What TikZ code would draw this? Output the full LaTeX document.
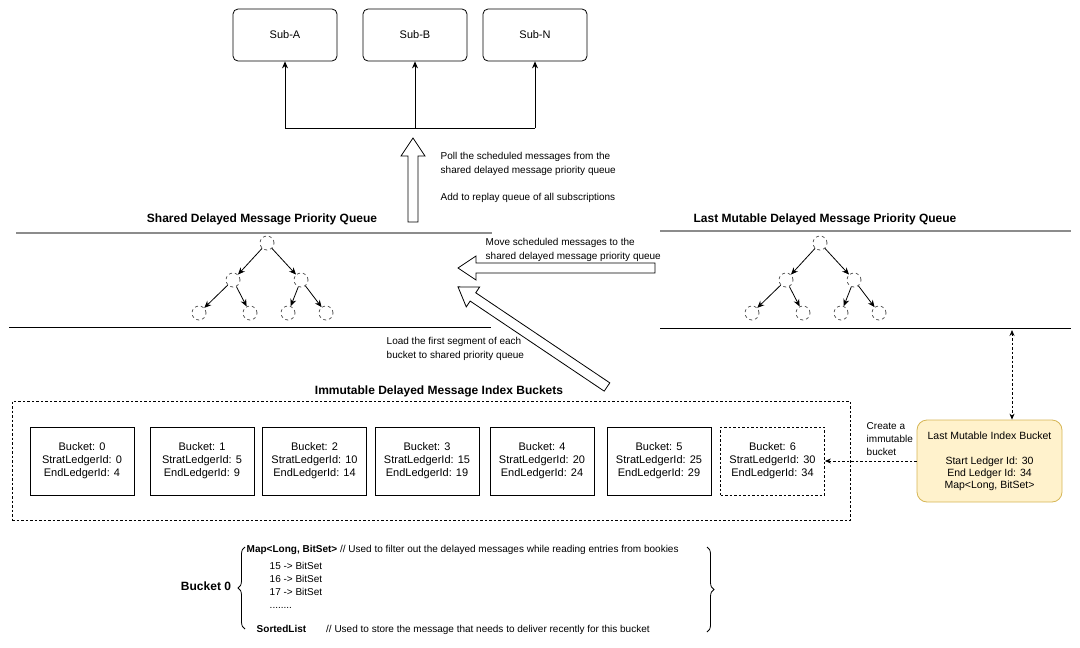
\documentclass[tikz,border=0pt]{standalone}
\usepackage{fontspec}
\setmainfont{Liberation Sans}
\usetikzlibrary{arrows.meta, decorations.pathreplacing}

\definecolor{mutfill}{HTML}{FFF2CC}
\definecolor{mutline}{HTML}{D6B656}

\tikzset{
  subbox/.style={draw, rounded corners=5pt, minimum width=104pt, minimum height=52pt, font=\fontsize{11}{13}\selectfont},
  bucket/.style={draw, minimum width=104pt, minimum height=68pt, align=center, font=\fontsize{11}{13}\selectfont},
  heapnode/.style={circle, draw=black!65, dashed, minimum size=14pt, inner sep=0pt},
  heapedge/.style={-{Stealth[length=7pt,width=6pt]}},
  note/.style={align=left, font=\fontsize{10}{14}\selectfont},
  qtitle/.style={font=\fontsize{12}{14}\selectfont\bfseries},
  small/.style={align=left, font=\fontsize{10}{13}\selectfont},
}

% heap tree: prefix, root x, root y
\newcommand\heaptree[3]{%
  \node[heapnode] (#1r) at (#2,#3) {};
  \node[heapnode] (#1a) at ({#2-34},{#3+37}) {};
  \node[heapnode] (#1b) at ({#2+34},{#3+37}) {};
  \node[heapnode] (#1aa) at ({#2-68},{#3+70}) {};
  \node[heapnode] (#1ab) at ({#2-17},{#3+70}) {};
  \node[heapnode] (#1ba) at ({#2+21},{#3+70}) {};
  \node[heapnode] (#1bb) at ({#2+59},{#3+70}) {};
  \draw[heapedge] (#1r) -- (#1a);
  \draw[heapedge] (#1r) -- (#1b);
  \draw[heapedge] (#1a) -- (#1aa);
  \draw[heapedge] (#1a) -- (#1ab);
  \draw[heapedge] (#1b) -- (#1ba);
  \draw[heapedge] (#1b) -- (#1bb);
}

% hollow block arrow: tail, angle, length
\newcommand\blockarrow[3]{%
  \begin{scope}[shift={#1}, rotate=#2]
    \draw[fill=white] (0,-5) -- ({#3-18},-5) -- ({#3-18},-12) -- (#3,0)
      -- ({#3-18},12) -- ({#3-18},5) -- (0,5) -- cycle;
  \end{scope}}

\begin{document}
\begin{tikzpicture}[x=1pt, y=-1pt, line width=0.8pt]
  \useasboundingbox (0,0) rectangle (1080,648);

  % subscriptions
  \node[subbox] (sub-a) at (285,35) {Sub-A};
  \node[subbox] (sub-b) at (415,35) {Sub-B};
  \node[subbox] (sub-n) at (535,35) {Sub-N};
  \coordinate (fan-a) at (285,128);
  \coordinate (fan-b) at (415,128);
  \coordinate (fan-n) at (535,128);
  \draw (fan-a) -- (fan-n);
  \draw[heapedge] (fan-a) -- (sub-a);
  \draw[heapedge] (fan-b) -- (sub-b);
  \draw[heapedge] (fan-n) -- (sub-n);

  \blockarrow{(413,222)}{90}{84}
  \node[note, anchor=west] (poll) at (437,164) {Poll the scheduled messages from the\\shared delayed message priority queue};
  \node[note, anchor=west] (replay) at (437,198) {Add to replay queue of all subscriptions};

  % shared queue
  \node[qtitle] (sq-title) at (262,219) {Shared Delayed Message Priority Queue};
  \draw[black!45, line width=1.5pt] (16,233) -- (492,233);
  \draw (9,327) -- (491,327);
  \heaptree{sq}{267}{243}

  % last mutable queue
  \node[qtitle] (mq-title) at (825,219) {Last Mutable Delayed Message Priority Queue};
  \draw[black!45, line width=1.5pt] (660,231) -- (1071,231);
  \draw (660,328) -- (1071,328);
  \heaptree{mq}{820}{243}

  \blockarrow{(655,268)}{180}{197}
  \node[note, anchor=west] (move) at (482,250) {Move scheduled messages to the\\shared delayed message priority queue};
  \blockarrow{(607,387)}{146.1}{179.5}
  \node[note, anchor=west] (load) at (383,349) {Load the first segment of each\\bucket to shared priority queue};

  % immutable buckets
  \node[qtitle] (imm-title) at (439,391) {Immutable Delayed Message Index Buckets};
  \node[draw, dash pattern=on 2.5pt off 2pt, minimum width=838pt, minimum height=119pt] (imm) at (431,460.5) {};
  \foreach \x/\id/\s/\e in {82/0/0/4, 202/1/5/9, 314.5/2/10/14, 427/3/15/19, 542/4/20/24, 659/5/25/29}
    \node[bucket] (b\id) at (\x,461) {Bucket: \id\\StratLedgerId: \s\\EndLedgerId: \e};
  \node[bucket, dash pattern=on 2.5pt off 2pt] (b6) at (772.5,461) {Bucket: 6\\StratLedgerId: 30\\EndLedgerId: 34};

  % last mutable bucket
  \node[draw=mutline, fill=mutfill, rounded corners=10pt, minimum width=145pt, minimum height=82pt,
        align=center, font=\fontsize{10.5}{12}\selectfont] (mut) at (989.5,461)
        {Last Mutable Index Bucket\\[13pt]Start Ledger Id: 30\\End Ledger Id: 34\\Map<Long, BitSet>};
  \coordinate (mq-bot) at (1012,330);
  \draw[dash pattern=on 2.5pt off 2pt, {Stealth[length=6pt,width=5pt]}-{Stealth[length=6pt,width=5pt]}] (mq-bot) -- (mut.north -| mq-bot);
  \draw[dash pattern=on 2.5pt off 2pt, -{Stealth[length=6pt,width=5pt]}] (mut.west) -- (b6.east);
  \node[note, anchor=west, font=\fontsize{10}{13}\selectfont] (create) at (863,439) {Create a\\immutable\\bucket};

  % bucket layout
  \node[font=\fontsize{12}{14}\selectfont\bfseries] (b0-name) at (206,586) {Bucket 0};
  \draw[decorate, decoration={brace, amplitude=7pt}] (245,629) -- (245,547);
  \draw[decorate, decoration={brace, amplitude=7pt}] (707,547) -- (707,632);
  \node[small, anchor=west] (map) at (243,550) {\textbf{Map<Long, BitSet>} // Used to filter out the delayed messages while reading entries from bookies};
  \node[small, anchor=north west] (entries) at (266,559) {15 -> BitSet\\16 -> BitSet\\17 -> BitSet\\........};
  \node[small, anchor=west] (sorted) at (253,630) {\textbf{SortedList}\hspace{20pt}// Used to store the message that needs to deliver recently for this bucket};
\end{tikzpicture}
\end{document}
